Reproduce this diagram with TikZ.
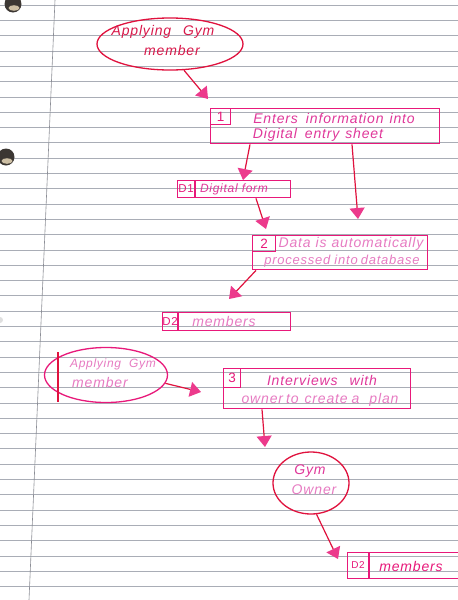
\documentclass[tikz,border=0pt]{standalone}
\usepackage{fontspec}
\newfontfamily\hand[LetterSpace=6]{Liberation Sans}
\usetikzlibrary{arrows.meta,shapes.geometric}
\definecolor{rule}{HTML}{A9ADB6}
\definecolor{margin}{HTML}{8C8E96}
\definecolor{inkred}{HTML}{E0123E}
\definecolor{inkmag}{HTML}{E8197A}
\definecolor{headpink}{HTML}{EC3A8C}
\definecolor{txtred}{HTML}{D8184A}
\definecolor{txtpink}{HTML}{E0389A}
\definecolor{txtlight}{HTML}{E77BC2}
\definecolor{holedark}{HTML}{3C3733}
\definecolor{holetan}{HTML}{CDBFA4}
\begin{document}
\begin{tikzpicture}[x=1pt,y=-1pt,
  entity/.style={ellipse, draw=inkred, line width=1.3pt, inner sep=0pt},
  procbox/.style={rectangle, draw=inkmag, line width=1.4pt, inner sep=0pt, anchor=north west},
  hw/.style={inner sep=0pt, font=\hand\itshape\fontsize{14}{14}\selectfont},
  hwnum/.style={inner sep=0pt, font=\hand\fontsize{13.5}{13.5}\selectfont},
  hwsmall/.style={inner sep=0pt, font=\hand\fontsize{11.5}{11.5}\selectfont},
  flow/.style={draw=inkred, line width=1.2pt, -{Triangle[length=11pt,width=15pt,color=headpink]}},
]
\useasboundingbox (0,0) rectangle (458,600);
\fill[white] (0,0) rectangle (458,600);

% ruled paper
\foreach \i in {0,...,38}
  \draw[rule, line width=0.6pt] (0,{5+15.3*\i}) -- (458,{5+15.3*\i});
\draw[margin, line width=0.6pt] (55,0) -- (29,600);

% punched holes
\fill[holedark] (13,4) circle (8.5);
\fill[holetan] (14,8) ellipse (5.5 and 2.8);
\fill[holedark] (6,157) circle (8.5);
\fill[holetan] (7,161) ellipse (5.5 and 2.8);
\fill[gray!25] (0,320) circle (3);

% external entity: applying gym member (top)
\node[entity, minimum width=146pt, minimum height=52pt] (app1) at (170,44) {};
\node[hw, text=txtred] (app1a) at (163,32) {Applying\hspace{12pt}Gym};
\node[hw, text=txtred] (app1b) at (172,50) {member};

% process 1
\node[procbox, minimum width=229pt, minimum height=35pt] (p1) at (210,108) {};
\node[procbox, minimum width=20pt, minimum height=16pt] (n1) at (210,108) {};
\node[hwnum, text=inkmag] at (n1.center) {1};
\node[hw, text=txtpink] (p1a) at (334,118) {Enters\hspace{8pt}information\hspace{6pt}into};
\node[hw, text=txtpink] (p1b) at (318,135) {Digital\hspace{8pt}entry\hspace{6pt}sheet};

% data store D1
\node[procbox, minimum width=113pt, minimum height=17pt] (d1) at (177,180) {};
\draw[inkmag, line width=1.4pt] (195,180) -- (195,197);
\node[hwsmall, text=inkmag] (d1n) at (186,189) {D1};
\node[hw, text=txtpink, font=\hand\itshape\fontsize{12}{12}\selectfont] (d1t) at (234,189.5) {Digital form};

% process 2
\node[procbox, minimum width=175pt, minimum height=34pt] (p2) at (252,235) {};
\node[procbox, minimum width=23pt, minimum height=16pt] (n2) at (252,235) {};
\node[hwnum, text=inkmag] at (n2.center) {2};
\node[hw, text=txtlight] (p2a) at (351,244) {Data\hspace{5pt}is\hspace{5pt}automatically};
\node[hw, text=txtlight, font=\hand\itshape\fontsize{13}{13}\selectfont] (p2b) at (342,261) {processed\hspace{4pt}into\hspace{3pt}database};

% data store D2
\node[procbox, minimum width=128pt, minimum height=18pt] (d2) at (162,312) {};
\draw[inkmag, line width=1.4pt] (178,312) -- (178,330);
\node[hwsmall, text=inkmag] (d2n) at (170,321) {D2};
\node[hw, text=txtlight] (d2t) at (224,321) {members};

% external entity: applying gym member (second)
\node[entity, draw=inkmag, minimum width=123pt, minimum height=55pt] (app2) at (106,375) {};
\draw[inkred, line width=1.4pt] (58,352) -- (58,402);
\node[hw, text=txtlight, font=\hand\itshape\fontsize{12}{12}\selectfont] (app2a) at (113,364) {Applying\hspace{8pt}Gym};
\node[hw, text=txtlight] (app2b) at (100,382) {member};

% process 3
\node[procbox, minimum width=187pt, minimum height=40pt] (p3) at (223,368) {};
\node[procbox, minimum width=17pt, minimum height=19pt] (n3) at (223,368) {};
\node[hwnum, text=inkmag] at (n3.center) {3};
\node[hw, text=txtpink] (p3a) at (322,380) {Interviews\hspace{12pt}with};
\node[hw, text=txtlight] (p3b) at (320,400) {owner\hspace{3pt}to\hspace{6pt}create\hspace{4pt}a\hspace{10pt}plan};

% external entity: gym owner
\node[entity, minimum width=76pt, minimum height=62pt] (own) at (311,483) {};
\node[hw, text=txtpink] (owna) at (310,471) {Gym};
\node[hw, text=txtlight] (ownb) at (314,490) {Owner};

% data store members (bottom)
\node[procbox, minimum width=115pt, minimum height=26pt] (d3) at (347,552) {};
\draw[inkmag, line width=1.4pt] (369,552) -- (369,578);
\node[hwsmall, text=inkmag, font=\hand\fontsize{10}{10}\selectfont] (d3n) at (358,565) {D2};
\node[hw, text=inkmag] (d3t) at (411,566) {members};

% arrow tips
\coordinate (t1) at (208,99);
\coordinate (t2) at (243,180);
\coordinate (t3) at (358,219);
\coordinate (t4) at (266,229);
\coordinate (t5) at (229,299);
\coordinate (t6) at (201,392);
\coordinate (t7) at (265,447);
\coordinate (t8) at (338,559);

% flows
\draw[flow] (app1.-62) -- (t1);
\draw[flow] (p1.south west) ++(40,0) -- (t2);
\draw[flow] (p1.south west) ++(142,0) -- (t3);
\draw[flow] (d1.south west) ++(79,0) -- (t4);
\draw[flow] (p2.south west) ++(4,0) -- (t5);
\draw[flow] (app2.-8) -- (t6);
\draw[flow] (p3.south west) ++(39,0) -- (t7);
\draw[flow] (own.-80) -- (t8);
\end{tikzpicture}
\end{document}
